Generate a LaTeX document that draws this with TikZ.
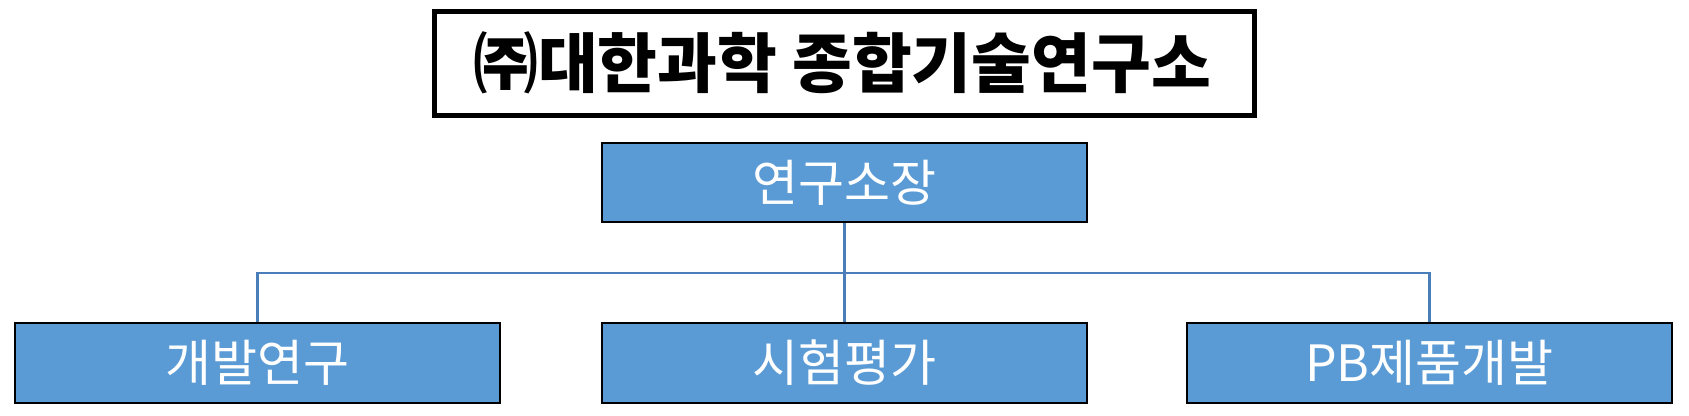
\documentclass[tikz,border=0pt]{standalone}
\usepackage{fontspec}
\setmainfont{Noto Sans CJK KR}
\definecolor{boxblue}{HTML}{5B9BD5}
\definecolor{linkblue}{HTML}{4A7EBB}
\begin{document}
\begin{tikzpicture}[x=1pt,y=-1pt,
  titlebox/.style={draw=black,line width=5pt,minimum width=820pt,minimum height=104pt,inner sep=0pt,
    font=\fontsize{65}{65}\selectfont\bfseries},
  orgbox/.style={draw=black,line width=2pt,fill=boxblue,minimum width=485pt,minimum height=80pt,inner sep=0pt,
    text=white,font=\fontsize{50}{50}\selectfont},
  link/.style={draw=linkblue,line width=2.2pt}]
\useasboundingbox (0,0) rectangle (1689,415);
\node[titlebox] (title) at (844,63) {㈜대한과학 종합기술연구소\kern4pt};
\node[orgbox,minimum height=79pt] (head) at (844.5,182.5) {연구소장};
\node[orgbox] (dev) at (257.5,363) {개발연구};
\node[orgbox] (test) at (844.5,363) {시험평가};
\node[orgbox] (pb) at (1429.5,363) {PB제품개발};
\coordinate (j) at (844.5,273);
\draw[link] (head.south) -- (j);
\draw[link] (dev.north) |- (j) -| (pb.north);
\draw[link] (j) -- (test.north);
\end{tikzpicture}
\end{document}
